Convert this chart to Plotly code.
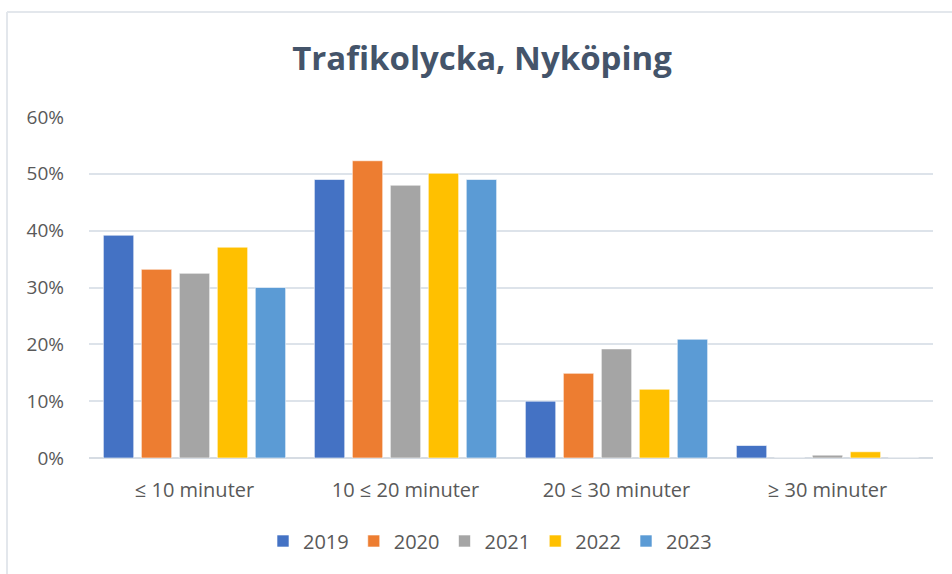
import plotly.graph_objects as go

categories = ["≤ 10 minuter", "10 ≤ 20 minuter", "20 ≤ 30 minuter", "≥ 30 minuter"]
years = ["2019", "2020", "2021", "2022", "2023"]
v2019 = [0.392, 0.490, 0.100, 0.022]
v2020 = [0.332, 0.523, 0.149, 0.0]
v2021 = [0.325, 0.480, 0.192, 0.005]
v2022 = [0.371, 0.501, 0.121, 0.011]
v2023 = [0.300, 0.490, 0.209, 0.0]
series = [v2019, v2020, v2021, v2022, v2023]
colors = ["#4472C4", "#ED7D31", "#A5A5A5", "#FFC000", "#5B9BD5"]
tick_vals = [0, 0.1, 0.2, 0.3, 0.4, 0.5, 0.6]

FONT = "Open Sans"

fig = go.Figure()
for name, vals, col in zip(years, series, colors):
    fig.add_trace(go.Bar(
        x=categories, y=vals, name=name,
        marker=dict(color=col, line=dict(color="rgba(255,255,255,0.6)", width=1)),
    ))

W, H = 952, 574
L, R, T, B = 89, 933, 117, 458
pw, ph = R - L, B - T
def px_x(p):
    return (p - L) / pw
def px_y(p):
    return (B - p) / ph

fig.add_shape(type="line", xref="paper", yref="paper",
              x0=px_x(7), x1=px_x(960), y0=px_y(12), y1=px_y(12),
              line=dict(color="#E3E7EC", width=2))
fig.add_shape(type="line", xref="paper", yref="paper",
              x0=px_x(7), x1=px_x(7), y0=px_y(12), y1=px_y(580),
              line=dict(color="#E3E7EC", width=2))

fig.update_layout(
    width=W, height=H,
    margin=dict(l=L, r=W - R, t=T, b=H - B),
    paper_bgcolor="white", plot_bgcolor="white",
    barmode="group", bargap=0.1, bargroupgap=0.2,
    title=dict(text="<b>Trafikolycka, Nyköping</b>", x=482 / W, xanchor="center",
               y=1 - 58 / H, yanchor="middle",
               font=dict(family=FONT, size=33, color="#44546A")),
    font=dict(family=FONT, color="#595959"),
    showlegend=True,
    legend=dict(orientation="h", x=px_x(490), xanchor="center", y=px_y(541), yanchor="middle",
                font=dict(family=FONT, size=20, color="#595959"),
                itemwidth=30, traceorder="normal"),
    xaxis=dict(showgrid=False, showline=False, ticks="", ticklabelstandoff=18,
               tickfont=dict(family=FONT, size=20, color="#595959")),
    yaxis=dict(range=[0, 0.6], tickvals=tick_vals, tickformat=".0%",
               showgrid=True, gridcolor="#DDE3EA", gridwidth=1.5,
               zeroline=True, zerolinecolor="#D6DCE3", zerolinewidth=1.5,
               showline=False, ticks="", ticklabelstandoff=24,
               tickfont=dict(family=FONT, size=19, color="#595959")),
)

fig.write_html("out.html", config={"displayModeBar": False},
               post_script="document.body.style.margin='0';")
